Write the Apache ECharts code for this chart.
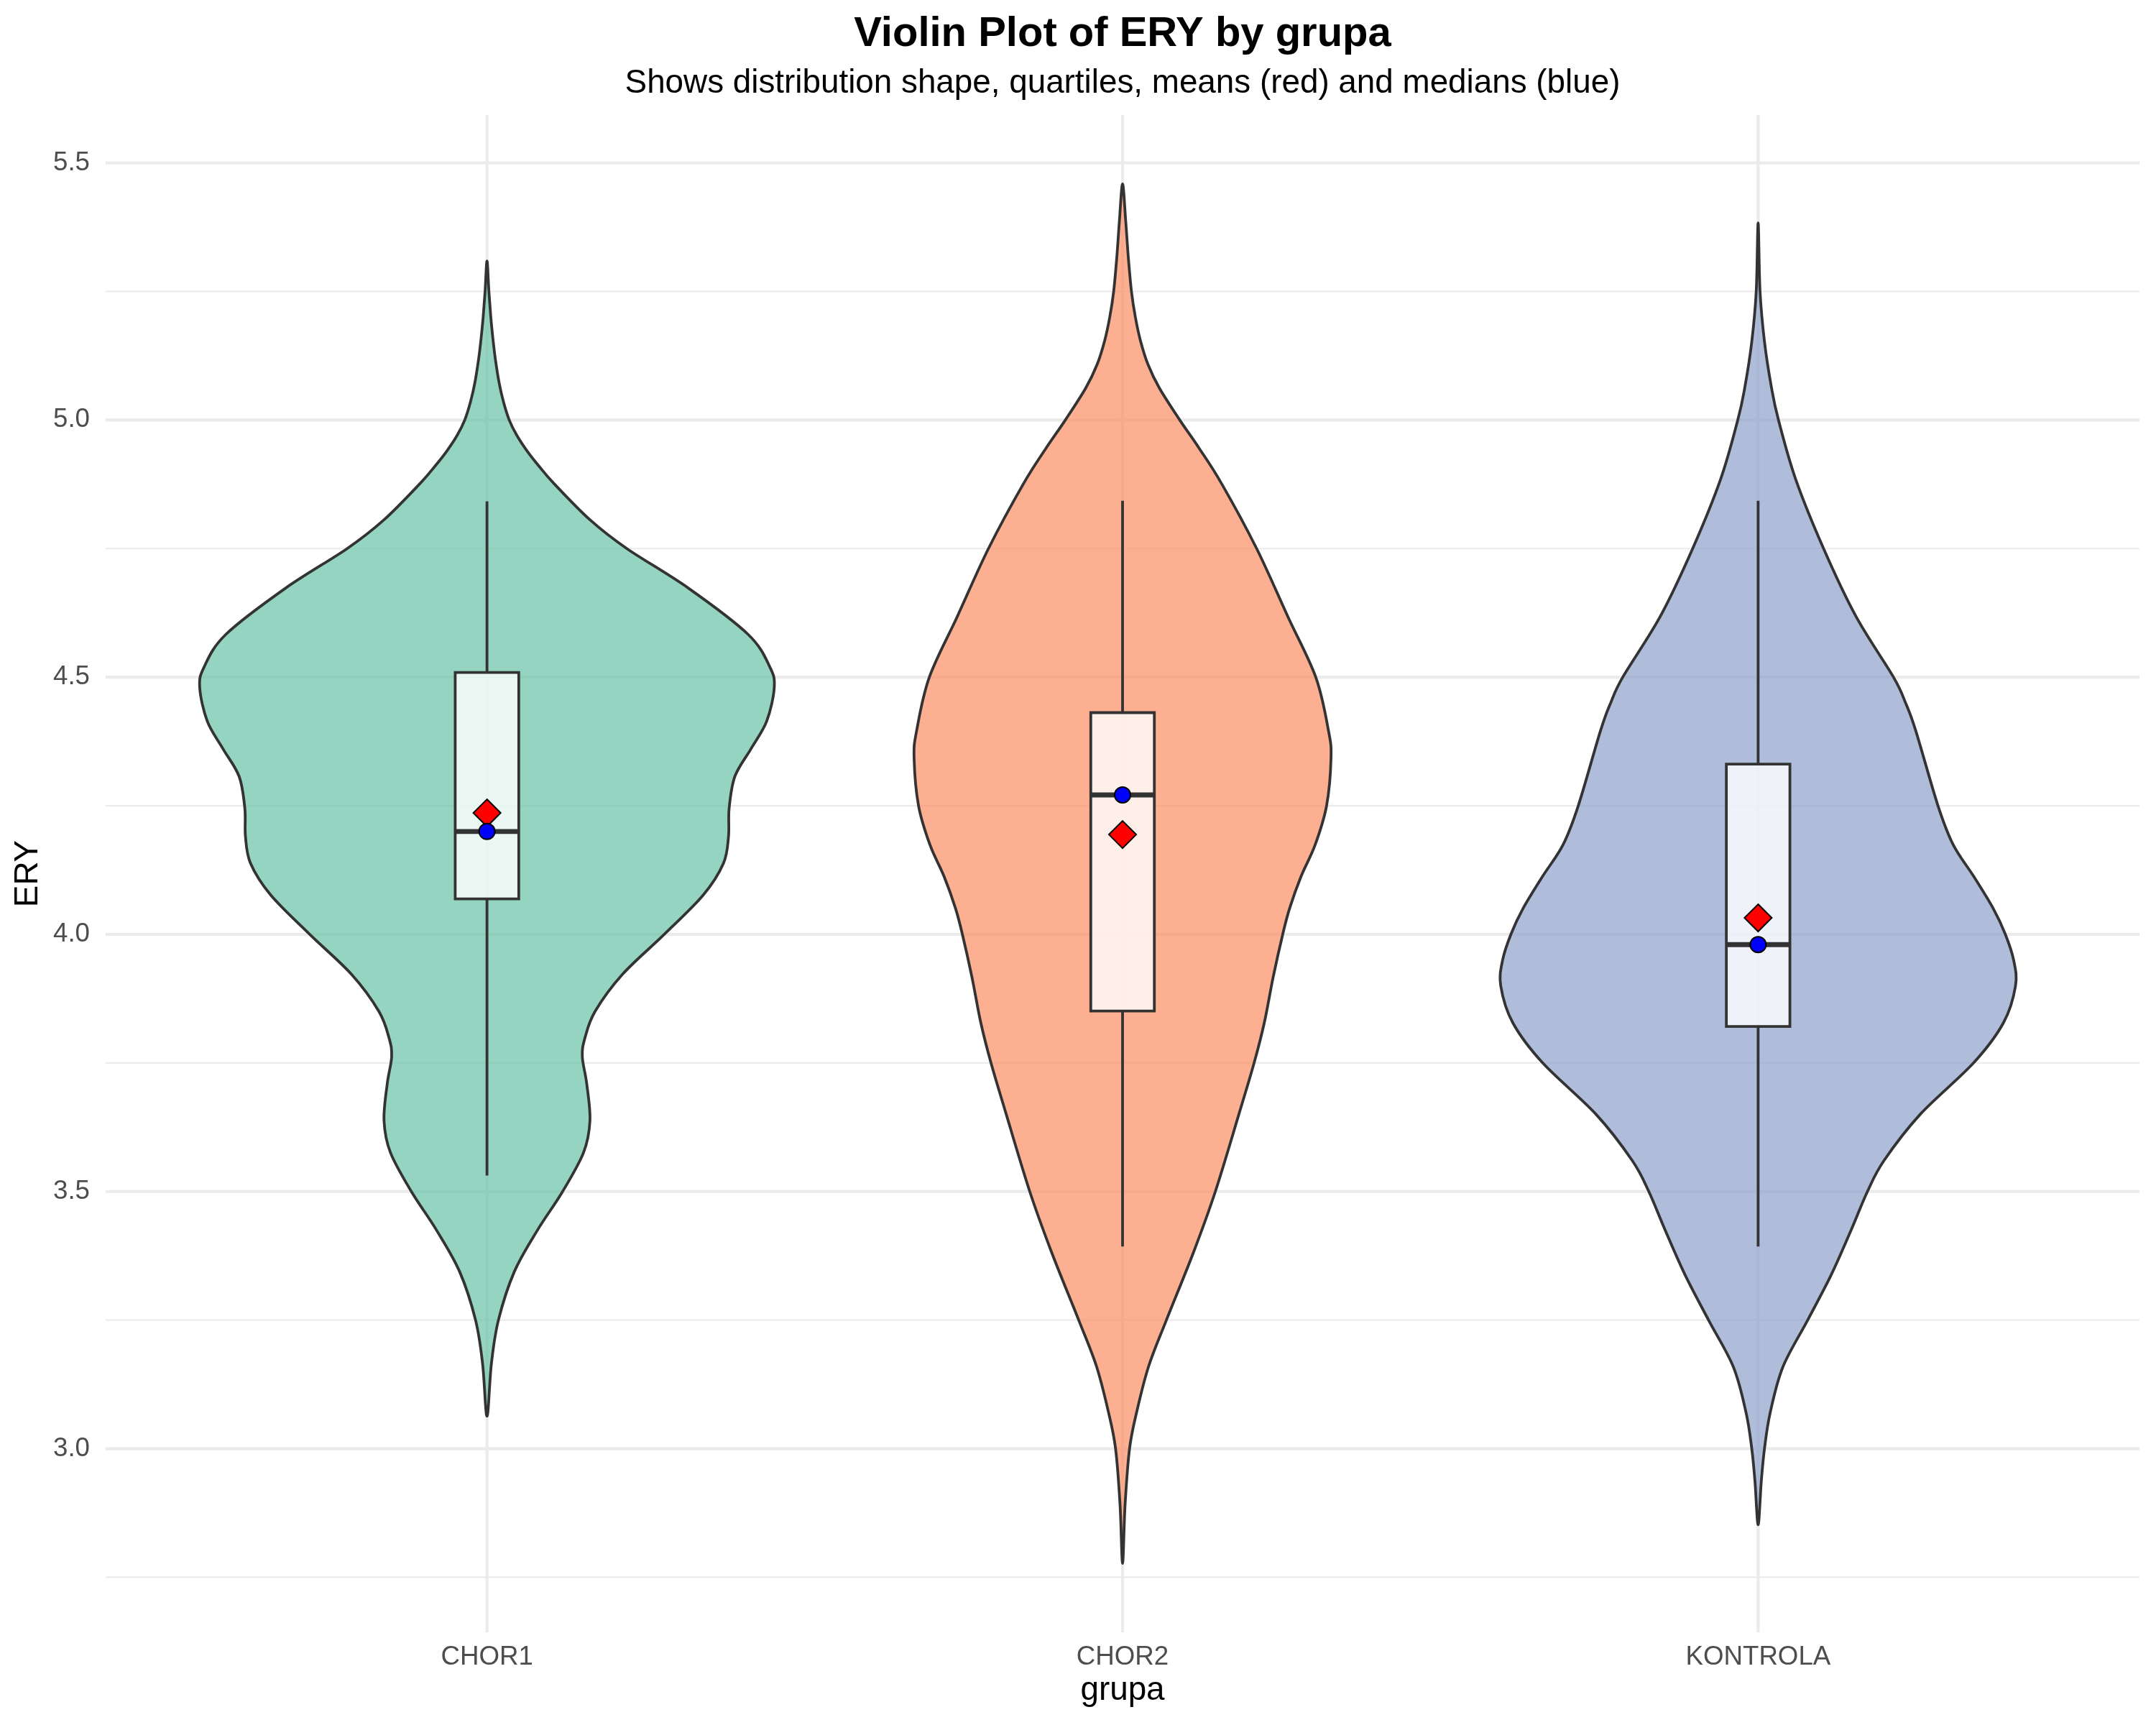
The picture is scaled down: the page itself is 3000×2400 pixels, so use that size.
<!DOCTYPE html>
<html>
<head>
<meta charset="utf-8">
<script src="https://cdn.jsdelivr.net/npm/echarts/dist/echarts.min.js"></script>
<style>
  html, body { margin: 0; padding: 0; background: #ffffff; }
  #chart { width: 3000px; height: 2400px; }
</style>
</head>
<body>
<div id="chart"></div>
<script>
// ---------------- data ----------------
const categories = ['CHOR1', 'CHOR2', 'KONTROLA'];

// violin outlines: [ERY value, half-width of density (in category units)]
const violinCHOR1 = [
  [3.063, 0], [3.166, 0.007], [3.25, 0.018], [3.344, 0.043], [3.424, 0.079], [3.5, 0.119],
  [3.576, 0.152], [3.638, 0.162], [3.709, 0.157], [3.762, 0.150], [3.798, 0.154], [3.85, 0.170],
  [3.922, 0.213], [4.0, 0.279], [4.076, 0.340], [4.138, 0.372], [4.19, 0.380], [4.245, 0.381],
  [4.307, 0.390], [4.36, 0.415], [4.414, 0.440], [4.48, 0.452], [4.52, 0.445], [4.583, 0.411],
  [4.673, 0.317], [4.75, 0.220], [4.806, 0.162], [4.877, 0.105], [4.91, 0.082], [4.94, 0.063],
  [4.97, 0.047], [5.0, 0.035], [5.035, 0.026], [5.073, 0.019], [5.12, 0.013], [5.162, 0.009],
  [5.2, 0.006], [5.25, 0.003], [5.309, 0]
];
const violinCHOR2 = [
  [2.777, 0], [2.892, 0.004], [3.0, 0.011], [3.07, 0.022], [3.16, 0.041], [3.25, 0.069],
  [3.383, 0.112], [3.5, 0.146], [3.65, 0.183], [3.75, 0.207], [3.828, 0.223], [3.917, 0.237],
  [4.0, 0.252], [4.051, 0.263], [4.113, 0.281], [4.174, 0.303], [4.25, 0.321], [4.343, 0.328],
  [4.396, 0.324], [4.5, 0.304], [4.618, 0.260], [4.75, 0.211], [4.876, 0.156], [4.946, 0.120],
  [5.0, 0.090], [5.062, 0.058], [5.108, 0.040], [5.155, 0.028], [5.201, 0.020], [5.25, 0.014],
  [5.317, 0.009], [5.386, 0.005], [5.459, 0]
];
const violinKONTROLA = [
  [2.852, 0], [2.937, 0.005], [3.0, 0.010], [3.07, 0.019], [3.159, 0.039], [3.25, 0.078],
  [3.338, 0.115], [3.427, 0.147], [3.5, 0.172], [3.56, 0.198], [3.65, 0.255], [3.75, 0.339],
  [3.828, 0.386], [3.9, 0.405], [3.95, 0.402], [4.0, 0.389], [4.05, 0.370], [4.113, 0.339],
  [4.174, 0.307], [4.25, 0.283], [4.396, 0.248], [4.45, 0.232], [4.5, 0.213], [4.618, 0.154],
  [4.75, 0.103], [4.885, 0.059], [5.0, 0.032], [5.063, 0.021], [5.152, 0.010], [5.25, 0.003],
  [5.383, 0]
];

// box plot statistics
const whiskerLow  = [3.531, 3.393, 3.393];
const q1          = [4.069, 3.851, 3.821];
const medians     = [4.200, 4.271, 3.980];
const q3          = [4.509, 4.431, 4.331];
const whiskerHigh = [4.842, 4.843, 4.843];
const means       = [4.236, 4.194, 4.032];

// axes
const yTicks = [3.0, 3.5, 4.0, 4.5, 5.0, 5.5];
const yMinorTicks = [2.75, 3.25, 3.75, 4.25, 4.75, 5.25];
const xTicks = [1, 2, 3];
const xRange = [0.4, 3.6];
const yRange = [2.643, 5.593];

// ---------------- styling ----------------
const violinProfiles = [violinCHOR1, violinCHOR2, violinKONTROLA];
const violinFills = ['rgba(102,194,165,0.7)', 'rgba(252,141,98,0.7)', 'rgba(141,160,203,0.7)'];
const FONT = '"Liberation Sans", Arial, Helvetica, sans-serif';
const OUTLINE = '#333333';
const BOX_HALF = 0.05;
const LW = 3.8;

const chart = echarts.init(document.getElementById('chart'), null, { renderer: 'canvas' });

function renderGrid(params, api) {
  const children = [];
  const hLine = (v, w) => {
    const a = api.coord([xRange[0], v]);
    const b = api.coord([xRange[1], v]);
    children.push({ type: 'line', shape: { x1: a[0], y1: a[1], x2: b[0], y2: b[1] },
      style: { stroke: '#EBEBEB', lineWidth: w } });
  };
  yMinorTicks.forEach(v => hLine(v, 2.2));
  yTicks.forEach(v => hLine(v, 4.2));
  xTicks.forEach(x => {
    const a = api.coord([x, yRange[0]]);
    const b = api.coord([x, yRange[1]]);
    children.push({ type: 'line', shape: { x1: a[0], y1: a[1], x2: b[0], y2: b[1] },
      style: { stroke: '#EBEBEB', lineWidth: 4.2 } });
  });
  return { type: 'group', children };
}

// closed Catmull-Rom curve through the screen points (for a smooth outline)
function closedSplinePath(pts) {
  const n = pts.length;
  const P = k => pts[(k + n) % n];
  let d = 'M' + pts[0][0].toFixed(2) + ' ' + pts[0][1].toFixed(2);
  for (let i = 0; i < n; i++) {
    const p0 = P(i - 1), p1 = P(i), p2 = P(i + 1), p3 = P(i + 2);
    const c1 = [p1[0] + (p2[0] - p0[0]) / 6, p1[1] + (p2[1] - p0[1]) / 6];
    const c2 = [p2[0] - (p3[0] - p1[0]) / 6, p2[1] - (p3[1] - p1[1]) / 6];
    d += ' C' + c1[0].toFixed(2) + ' ' + c1[1].toFixed(2) + ' ' +
         c2[0].toFixed(2) + ' ' + c2[1].toFixed(2) + ' ' +
         p2[0].toFixed(2) + ' ' + p2[1].toFixed(2);
  }
  return d + ' Z';
}

function renderViolin(params, api) {
  const i = params.dataIndex;
  const cx = api.value(0);
  const prof = violinProfiles[i];
  const pts = [];
  for (let k = 0; k < prof.length; k++) {
    pts.push(api.coord([cx + prof[k][1], prof[k][0]]));
  }
  for (let k = prof.length - 1; k >= 0; k--) {
    if (prof[k][1] === 0) continue;
    pts.push(api.coord([cx - prof[k][1], prof[k][0]]));
  }
  return {
    type: 'path',
    shape: { pathData: closedSplinePath(pts) },
    style: { fill: violinFills[i], stroke: OUTLINE, lineWidth: LW, lineJoin: 'round' }
  };
}

function renderBox(params, api) {
  const i = params.dataIndex;
  const cx = api.value(0);
  const pLo = api.coord([cx, whiskerLow[i]]);
  const pQ1 = api.coord([cx, q1[i]]);
  const pQ3 = api.coord([cx, q3[i]]);
  const pHi = api.coord([cx, whiskerHigh[i]]);
  const tl = api.coord([cx - BOX_HALF, q3[i]]);
  const br = api.coord([cx + BOX_HALF, q1[i]]);
  const ml = api.coord([cx - BOX_HALF, medians[i]]);
  const mr = api.coord([cx + BOX_HALF, medians[i]]);
  return {
    type: 'group',
    children: [
      { type: 'line', shape: { x1: pQ3[0], y1: pQ3[1], x2: pHi[0], y2: pHi[1] },
        style: { stroke: OUTLINE, lineWidth: LW } },
      { type: 'line', shape: { x1: pQ1[0], y1: pQ1[1], x2: pLo[0], y2: pLo[1] },
        style: { stroke: OUTLINE, lineWidth: LW } },
      { type: 'rect', shape: { x: tl[0], y: tl[1], width: br[0] - tl[0], height: br[1] - tl[1] },
        style: { fill: 'rgba(255,255,255,0.8)', stroke: OUTLINE, lineWidth: LW } },
      { type: 'line', shape: { x1: ml[0], y1: ml[1], x2: mr[0], y2: mr[1] },
        style: { stroke: OUTLINE, lineWidth: 6.8 } }
    ]
  };
}

const catData = xTicks.map(x => [x, 4]);

const option = {
  animation: false,
  backgroundColor: '#ffffff',
  textStyle: { fontFamily: FONT },
  title: [
    {
      text: 'Violin Plot of ERY by grupa',
      left: 1562, top: 19,
      textAlign: 'center',
      padding: 0,
      textStyle: { fontFamily: FONT, fontSize: 58, fontWeight: 'bold', color: '#000000', lineHeight: 58 }
    },
    {
      text: 'Shows distribution shape, quartiles, means (red) and medians (blue)',
      left: 1562, top: 93,
      textAlign: 'center',
      padding: 0,
      textStyle: { fontFamily: FONT, fontSize: 45.8, fontWeight: 'normal', color: '#000000', lineHeight: 46 }
    }
  ],
  grid: { left: 147, right: 23, top: 160, bottom: 129, containLabel: false },
  xAxis: {
    type: 'value',
    min: xRange[0], max: xRange[1],
    name: 'grupa',
    nameLocation: 'middle',
    nameGap: 58,
    nameTextStyle: { fontFamily: FONT, fontSize: 45.8, color: '#000000', lineHeight: 46 },
    axisLine: { show: false },
    axisTick: { show: false },
    splitLine: { show: false },
    axisLabel: {
      customValues: xTicks,
      formatter: v => categories[Math.round(v) - 1] || '',
      fontFamily: FONT, fontSize: 36.7, color: '#4D4D4D', margin: 16, lineHeight: 37
    }
  },
  yAxis: {
    type: 'value',
    min: yRange[0], max: yRange[1],
    name: 'ERY',
    nameLocation: 'middle',
    nameGap: 85,
    nameTextStyle: { fontFamily: FONT, fontSize: 45.8, color: '#000000', lineHeight: 46 },
    axisLine: { show: false },
    axisTick: { show: false },
    splitLine: { show: false },
    axisLabel: {
      customValues: yTicks,
      formatter: v => Number(v).toFixed(1),
      fontFamily: FONT, fontSize: 36.7, color: '#4D4D4D', margin: 22
    }
  },
  series: [
    {
      type: 'custom', name: 'grid', z: 0, silent: true,
      renderItem: renderGrid, data: [[1, 4]], clip: false
    },
    {
      type: 'custom', name: 'violins', z: 1, silent: true,
      renderItem: renderViolin, data: catData, clip: false
    },
    {
      type: 'custom', name: 'boxes', z: 2, silent: true,
      renderItem: renderBox, data: catData, clip: false
    },
    {
      type: 'scatter', name: 'means', z: 3,
      symbol: 'diamond', symbolSize: 38,
      itemStyle: { color: '#FF0000', borderColor: '#000000', borderWidth: 2, opacity: 1 },
      data: xTicks.map((x, i) => [x, means[i]])
    },
    {
      type: 'scatter', name: 'medians', z: 4,
      symbol: 'circle', symbolSize: 22,
      itemStyle: { color: '#0000FF', borderColor: '#000000', borderWidth: 2, opacity: 1 },
      data: xTicks.map((x, i) => [x, medians[i]])
    }
  ]
};

chart.setOption(option);
</script>
</body>
</html>
